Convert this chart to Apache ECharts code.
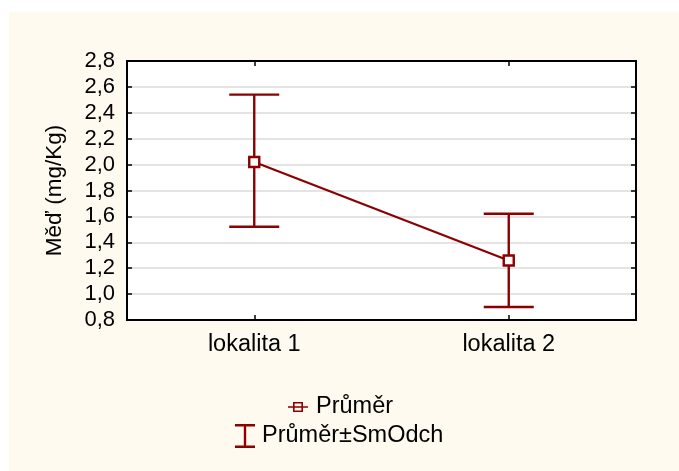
<!DOCTYPE html>
<html>
<head>
<meta charset="utf-8">
<script src="https://cdn.jsdelivr.net/npm/echarts@6/dist/echarts.min.js"></script>
<style>
  html, body { margin: 0; padding: 0; background: #ffffff; }
  #bg { position: absolute; left: 9px; top: 12px; width: 670px; height: 459px; background: #FFFAF0; }
  #chart { position: absolute; left: 0; top: 0; width: 679px; height: 471px; }
</style>
</head>
<body>
<div id="bg"></div>
<div id="chart"></div>
<script>
const categories = ['lokalita 1', 'lokalita 2'];
const meanValues = [2.02, 1.26];
const sdLow = [1.52, 0.90];
const sdHigh = [2.54, 1.62];
const yTicks = [0.8, 1.0, 1.2, 1.4, 1.6, 1.8, 2.0, 2.2, 2.4, 2.6, 2.8];

const RED = '#8b0000';
const FONT = 'Liberation Sans';

const errorData = categories.map((c, i) => [i, sdLow[i], sdHigh[i]]);

const meanIcon = 'path://M0 4.2L5 4.2L5 5.8L0 5.8Z M5 0L15 0L15 10L5 10Z M6.6 1.6L6.6 8.4L13.4 8.4L13.4 1.6Z M6.6 4.2L13.4 4.2L13.4 5.8L6.6 5.8Z M15 4.2L20 4.2L20 5.8L15 5.8Z';
const barIcon = 'path://M0 0H20V2.4H11.2V21.6H20V24H0V21.6H8.8V2.4H0Z';

const chart = echarts.init(document.getElementById('chart'), null, { renderer: 'canvas' });

const yAxisBase = {
  type: 'value',
  min: yTicks[0],
  max: yTicks[yTicks.length - 1],
  interval: 0.2,
  axisLine: { show: true, lineStyle: { color: '#000', width: 2 } },
  axisTick: { show: true, inside: true, length: 5, lineStyle: { color: '#000', width: 1.5 } },
  splitLine: { show: false }
};

chart.setOption({
  backgroundColor: 'transparent',
  animation: false,
  grid: {
    left: 127, top: 61, right: 43, bottom: 151,
    show: true, backgroundColor: '#ffffff', borderColor: '#000', borderWidth: 2
  },
  legend: [
    {
      left: 283, top: 390, orient: 'horizontal', selectedMode: false,
      itemWidth: 20, itemHeight: 10,
      textStyle: { fontFamily: FONT, fontSize: 23.5, color: '#000', padding: [0, 0, 0, 3] },
      data: [{ name: 'Průměr', icon: meanIcon, itemStyle: { color: RED, borderWidth: 0 } }]
    },
    {
      left: 230, top: 419, orient: 'horizontal', selectedMode: false,
      itemWidth: 20, itemHeight: 24,
      textStyle: { fontFamily: FONT, fontSize: 23.5, color: '#000', padding: [0, 0, 0, 2] },
      data: [{ name: 'Průměr±SmOdch', icon: barIcon, itemStyle: { color: RED, borderWidth: 0 } }]
    }
  ],
  xAxis: [
    {
      type: 'category', data: categories, position: 'bottom', boundaryGap: true,
      axisLine: { show: true, lineStyle: { color: '#000', width: 2 } },
      axisTick: { show: true, inside: true, alignWithLabel: true, length: 5, lineStyle: { color: '#000', width: 1.5 } },
      axisLabel: { fontFamily: FONT, fontSize: 23.5, color: '#000', margin: 13 },
      splitLine: { show: false }
    },
    {
      type: 'category', data: categories, position: 'top', boundaryGap: true,
      axisLine: { show: true, lineStyle: { color: '#000', width: 2 } },
      axisTick: { show: true, inside: true, alignWithLabel: true, length: 5, lineStyle: { color: '#000', width: 1.5 } },
      axisLabel: { show: false },
      splitLine: { show: false }
    }
  ],
  yAxis: [
    Object.assign({}, yAxisBase, {
      position: 'left',
      name: 'Měď (mg/Kg)',
      nameLocation: 'middle',
      nameGap: 61,
      nameRotate: 90,
      nameTextStyle: { fontFamily: FONT, fontSize: 22.5, color: '#000' },
      axisLabel: {
        fontFamily: FONT, fontSize: 22, color: '#000', margin: 12,
        formatter: v => v.toFixed(1).replace('.', ',')
      },
      splitLine: { show: true, lineStyle: { color: '#e4e4e4', width: 2 } }
    }),
    Object.assign({}, yAxisBase, {
      position: 'right',
      axisLabel: { show: false }
    })
  ],
  series: [
    {
      name: 'Průměr±SmOdch',
      type: 'custom',
      xAxisIndex: 0, yAxisIndex: 0,
      itemStyle: { color: RED },
      z: 2,
      renderItem: function (params, api) {
        const x = api.value(0);
        const lo = api.coord([x, api.value(1)]);
        const hi = api.coord([x, api.value(2)]);
        const half = 25;
        const st = { stroke: RED, lineWidth: 2.4 };
        return {
          type: 'group',
          children: [
            { type: 'line', shape: { x1: lo[0], y1: lo[1], x2: hi[0], y2: hi[1] }, style: st },
            { type: 'line', shape: { x1: hi[0] - half, y1: hi[1], x2: hi[0] + half, y2: hi[1] }, style: st },
            { type: 'line', shape: { x1: lo[0] - half, y1: lo[1], x2: lo[0] + half, y2: lo[1] }, style: st }
          ]
        };
      },
      data: errorData
    },
    {
      name: 'Průměr',
      type: 'line',
      xAxisIndex: 0, yAxisIndex: 0,
      z: 5,
      data: meanValues,
      symbol: 'rect',
      symbolSize: 10,
      showSymbol: true,
      lineStyle: { color: RED, width: 2.2 },
      itemStyle: { color: '#ffffff', borderColor: RED, borderWidth: 2.4 }
    }
  ]
});
</script>
</body>
</html>
